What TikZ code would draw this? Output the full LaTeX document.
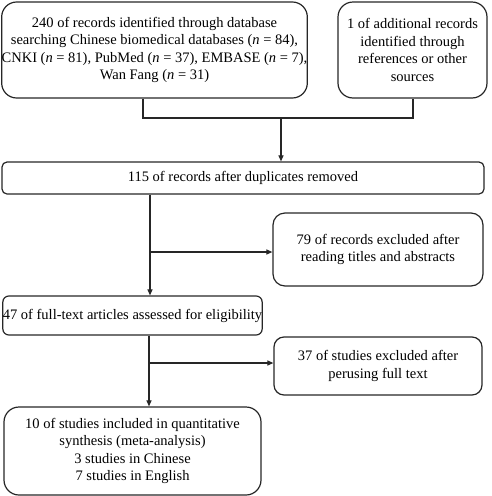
\documentclass[tikz,border=0pt]{standalone}
\usepackage{fontspec}
\setmainfont{Liberation Serif}
\usetikzlibrary{arrows.meta,calc}
\begin{document}
\begin{tikzpicture}[x=1pt,y=-1pt,
  box/.style={draw=black!85,line width=1.2pt,align=center,inner sep=0pt,
    font=\fontsize{14.5}{17.5}\selectfont},
  conn/.style={draw=black!85,line width=1.1pt},
  arr/.style={conn,-{Triangle[length=6pt,width=5pt]}}]
\useasboundingbox (0,0) rectangle (491,496);
\node[box,rounded corners=15pt,minimum width=305pt,minimum height=96pt] (b1) at (154.5,50)
  {240 of records identified through database\\searching Chinese biomedical databases (\textit{n} = 84),\\CNKI (\textit{n} = 81), PubMed (\textit{n} = 37), EMBASE (\textit{n} = 7),\\Wan Fang (\textit{n} = 31)};
\node[box,rounded corners=15pt,minimum width=149pt,minimum height=96pt] (b2) at (412.5,50)
  {1 of additional records\\identified through\\references or other\\sources};
\node[box,rounded corners=5pt,minimum width=482pt,minimum height=32pt] (b3) at (243,178)
  {115 of records after duplicates removed};
\node[box,rounded corners=12pt,minimum width=210pt,minimum height=73pt] (b5) at (378,249.5)
  {79 of records excluded after\\reading titles and abstracts};
\node[box,rounded corners=6pt,minimum width=259pt,minimum height=39pt] (b4) at (132.5,315.5)
  {47 of full-text articles assessed for eligibility};
\node[box,rounded corners=10pt,minimum width=208pt,minimum height=58pt] (b7) at (378,366)
  {37 of studies excluded after\\perusing full text};
\node[box,rounded corners=15pt,minimum width=257pt,minimum height=88pt] (b6) at (132.5,451)
  {10 of studies included in quantitative\\synthesis (meta-analysis)\\3 studies in Chinese\\7 studies in English};
\coordinate (j1) at (143,118);
\coordinate (j2) at (413,118);
\coordinate (jm) at (281,118);
\draw[conn] (j1 |- b1.south) -- (j1) -- (j2) -- (j2 |- b2.south);
\draw[arr] (jm) -- (jm |- b3.north);
\coordinate (k1) at (150,252);
\draw[arr] (k1 |- b3.south) -- (k1 |- b4.north);
\draw[arr] (k1) -- (k1 -| b5.west);
\coordinate (k2) at (149,363);
\draw[arr] (k2 |- b4.south) -- (k2 |- b6.north);
\draw[arr] (k2) -- (k2 -| b7.west);
\end{tikzpicture}
\end{document}
